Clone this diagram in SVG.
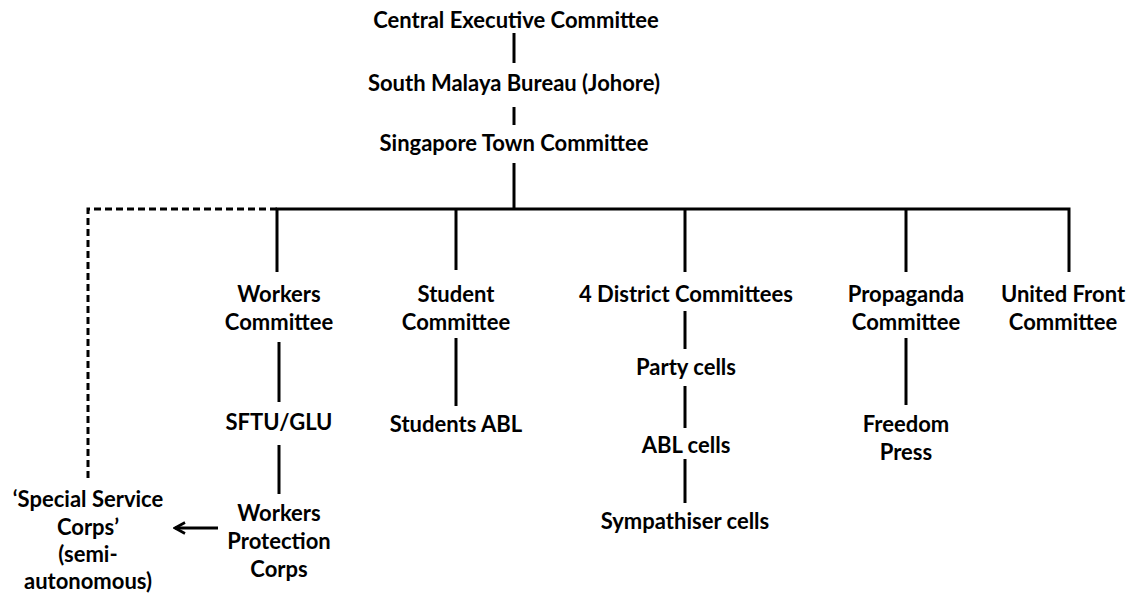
<svg xmlns="http://www.w3.org/2000/svg" width="1147" height="599" viewBox="0 0 1147 599">
  <style>
    .t { font-family: Lato, "Liberation Sans", sans-serif; font-weight: bold; font-size: 22px; fill: #000; text-anchor: middle; }
    .c { stroke: #000; stroke-width: 3; fill: none; }
    .d { stroke: #000; stroke-width: 3; fill: none; stroke-dasharray: 7 4; }
  </style>
  <defs>
    <marker id="arr" markerWidth="14" markerHeight="14" refX="12" refY="7" orient="auto" markerUnits="userSpaceOnUse">
      <polyline points="2,1.5 12,7 2,12.5" fill="none" stroke="#000" stroke-width="2.6"/>
    </marker>
  </defs>
  <rect width="1147" height="599" fill="#fff"/>
  <g id="connectors">
    <line class="c" x1="514" y1="33" x2="514" y2="63"/>
    <line class="c" x1="514" y1="107" x2="514" y2="125"/>
    <line class="c" x1="514" y1="163" x2="514" y2="209"/>
    <polyline class="c" points="277,272 277,209 1069,209 1069,272"/>
    <polyline class="d" points="277,209 88,209 88,480"/>
    <line class="c" x1="456" y1="209" x2="456" y2="270"/>
    <line class="c" x1="685" y1="209" x2="685" y2="272"/>
    <line class="c" x1="906" y1="209" x2="906" y2="272"/>
    <line class="c" x1="279" y1="342" x2="279" y2="402"/>
    <line class="c" x1="279" y1="445" x2="279" y2="494"/>
    <line class="c" x1="456" y1="338" x2="456" y2="406"/>
    <line class="c" x1="685" y1="311" x2="685" y2="349"/>
    <line class="c" x1="685" y1="386" x2="685" y2="428"/>
    <line class="c" x1="685" y1="459" x2="685" y2="503"/>
    <line class="c" x1="906" y1="338" x2="906" y2="405"/>
    <line class="c" x1="218" y1="528" x2="175" y2="528" marker-end="url(#arr)"/>
  </g>
  <g id="n-cec"><text class="t" x="516" y="28">Central Executive Committee</text></g>
  <g id="n-smb"><text class="t" x="514" y="91">South Malaya Bureau (Johore)</text></g>
  <g id="n-stc"><text class="t" x="514" y="151">Singapore Town Committee</text></g>
  <g id="n-workers"><text class="t" x="279" y="302">Workers</text><text class="t" x="279" y="330">Committee</text></g>
  <g id="n-student"><text class="t" x="456" y="302">Student</text><text class="t" x="456" y="330">Committee</text></g>
  <g id="n-district"><text class="t" x="686" y="302">4 District Committees</text></g>
  <g id="n-propaganda"><text class="t" x="906" y="302">Propaganda</text><text class="t" x="906" y="330">Committee</text></g>
  <g id="n-united"><text class="t" x="1063" y="302">United Front</text><text class="t" x="1063" y="330">Committee</text></g>
  <g id="n-sftu"><text class="t" x="279" y="430">SFTU/GLU</text></g>
  <g id="n-students-abl"><text class="t" x="456" y="432">Students ABL</text></g>
  <g id="n-party"><text class="t" x="686" y="375">Party cells</text></g>
  <g id="n-abl"><text class="t" x="686" y="453">ABL cells</text></g>
  <g id="n-symp"><text class="t" x="685" y="529">Sympathiser cells</text></g>
  <g id="n-freedom"><text class="t" x="906" y="432">Freedom</text><text class="t" x="906" y="460">Press</text></g>
  <g id="n-wpc"><text class="t" x="279" y="521">Workers</text><text class="t" x="279" y="549">Protection</text><text class="t" x="279" y="577">Corps</text></g>
  <g id="n-ssc"><text class="t" x="88" y="507">‘Special Service</text><text class="t" x="88" y="535">Corps’</text><text class="t" x="88" y="562">(semi-</text><text class="t" x="88" y="589">autonomous)</text></g>
</svg>
